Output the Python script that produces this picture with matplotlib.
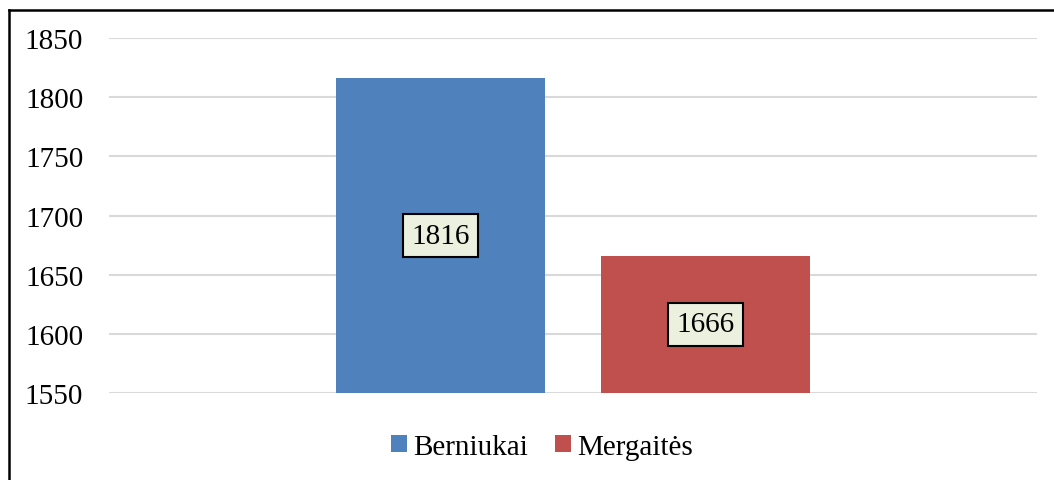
import matplotlib
matplotlib.use("Agg")
import matplotlib.pyplot as plt
from matplotlib.patches import Patch
from matplotlib.lines import Line2D

series = ["Berniukai", "Mergaitės"]
values = [1816, 1666]
colors = ["#4F81BD", "#C0504D"]
yticks = [1550, 1600, 1650, 1700, 1750, 1800, 1850]

plt.rcParams['font.family'] = ['Liberation Serif', 'DejaVu Serif']

W, H = 1054, 481
fig = plt.figure(figsize=(W / 100, H / 100), dpi=100)
ax = fig.add_axes([109 / W, 87 / H, (1037 - 109) / W, (442 - 87) / H])

ymin, ymax = 1550, 1850
width = 209 / 928
offsets = [-132.5 / 928, 132.5 / 928]
for off, v, c in zip(offsets, values, colors):
    ax.bar(off, v - ymin, bottom=ymin, width=width, color=c, zorder=3)
    ax.text(off, (ymin + v) / 2, str(v), ha='center', va='center', fontsize=21,
            zorder=4,
            bbox=dict(boxstyle='square,pad=0.28', facecolor='#EBF1DE',
                      edgecolor='black', linewidth=1.5))

ax.set_xlim(-0.5, 0.5)
ax.set_ylim(ymin, ymax)
ax.set_yticks(yticks)
ax.set_xticks([])
ax.tick_params(axis='y', length=0, pad=18.5, labelsize=21)
ax.grid(axis='y', color='#D9D9D9', linewidth=1.5, zorder=0)
for s in ax.spines.values():
    s.set_visible(False)

handles = [Patch(facecolor=c, edgecolor='none') for c in colors]
fig.legend(handles, series, loc='center', bbox_to_anchor=(542 / W, 1 - 448 / H),
           ncol=2, frameon=False, fontsize=21, handlelength=0.55, handleheight=0.55,
           handletextpad=0.2, columnspacing=0.95)

# chart border (left and top only visible)
fig.add_artist(Line2D([8.5 / W, 8.5 / W], [0, 1 - 11 / H], transform=fig.transFigure,
                      color='black', linewidth=1.8, solid_capstyle='projecting'))
fig.add_artist(Line2D([8.5 / W, 1], [1 - 11 / H, 1 - 11 / H], transform=fig.transFigure,
                      color='black', linewidth=1.8, solid_capstyle='projecting'))

fig.savefig("out.png", dpi=100)
